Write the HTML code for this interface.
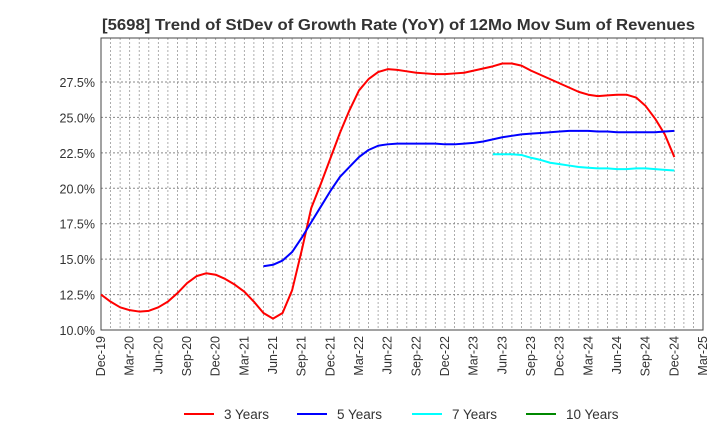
<!DOCTYPE html>
<html><head><meta charset="utf-8"><style>
body{margin:0;background:#fff;font-family:"Liberation Sans",Arial,sans-serif}
svg text{font-family:"Liberation Sans",Arial,sans-serif}
</style></head><body>
<svg id="c" width="720" height="440" xmlns="http://www.w3.org/2000/svg">
<text x="102" y="30" textLength="593" lengthAdjust="spacingAndGlyphs" font-size="16" font-weight="bold" fill="#333">[5698]  Trend of StDev of Growth Rate (YoY) of 12Mo Mov Sum of Revenues</text>
<g id="grid"></g><g id="axes"></g><g id="series"></g><g id="legend"></g>
</svg>
<script>
const xLabels=["Dec-19","Mar-20","Jun-20","Sep-20","Dec-20","Mar-21","Jun-21","Sep-21","Dec-21","Mar-22","Jun-22","Sep-22","Dec-22","Mar-23","Jun-23","Sep-23","Dec-23","Mar-24","Jun-24","Sep-24","Dec-24","Mar-25"];
const yTicks=[10,12.5,15,17.5,20,22.5,25,27.5];
const s3=[12.5,12.0,11.6,11.4,11.3,11.35,11.6,12.0,12.6,13.3,13.8,14.0,13.9,13.6,13.2,12.7,12.0,11.2,10.8,11.2,12.8,15.6,18.6,20.3,22.1,23.9,25.5,26.9,27.7,28.2,28.4,28.35,28.25,28.15,28.1,28.05,28.05,28.1,28.15,28.3,28.45,28.6,28.8,28.8,28.65,28.3,28.0,27.7,27.4,27.1,26.8,26.6,26.5,26.55,26.6,26.6,26.4,25.8,24.9,23.8,22.2];
const s5Start=17;
const s5=[14.5,14.6,14.9,15.5,16.5,17.6,18.7,19.8,20.8,21.5,22.2,22.7,23.0,23.1,23.15,23.15,23.15,23.15,23.15,23.1,23.1,23.15,23.2,23.3,23.45,23.6,23.7,23.8,23.85,23.9,23.95,24.0,24.05,24.05,24.05,24.0,24.0,23.95,23.95,23.95,23.95,23.95,24.0,24.05];
const s7Start=41;
const s7=[22.4,22.4,22.4,22.35,22.15,22.0,21.8,21.7,21.6,21.5,21.45,21.4,21.4,21.35,21.35,21.4,21.4,21.35,21.3,21.25];
const L=101,R=703,T=38,B=330,yMin=10,yMax=30.6,nM=63;
const X=i=>L+(R-L)*i/nM, Y=v=>B-(B-T)*(v-yMin)/(yMax-yMin);
const NS="http://www.w3.org/2000/svg";
function mk(t,a,p){const e=document.createElementNS(NS,t);for(const k in a)e.setAttribute(k,a[k]);p.appendChild(e);return e;}
const g=document.getElementById('grid'),ax=document.getElementById('axes'),se=document.getElementById('series'),lg=document.getElementById('legend');
for(let i=1;i<nM;i++){const l=mk('line',{x1:X(i),x2:X(i),y1:T,y2:B,stroke:'#999','stroke-dasharray':'2,2','stroke-width':0.8},g);

}
yTicks.forEach(v=>{if(v>yMin){const l=mk('line',{x1:L,x2:R,y1:Y(v),y2:Y(v),stroke:'#888','stroke-dasharray':'2,2','stroke-width':1},g);

}
const t=mk('text',{x:L-6,y:Y(v)+5,'text-anchor':'end','font-size':12.5,fill:'#333'},ax);t.textContent=v.toFixed(1)+'%';

});
const fr=mk('rect',{x:L,y:T,width:R-L,height:B-T,fill:'none',stroke:'#444','stroke-width':1},ax);


xLabels.forEach((s,i)=>{const x=X(i*3)+4;const t=mk('text',{x:x,y:B+6,'text-anchor':'end','font-size':12.5,fill:'#333',transform:`rotate(-90 ${x} ${B+6})`},ax);t.textContent=s;

});
function line(arr,start,col,name){const p=mk('polyline',{points:arr.map((v,i)=>X(start+i)+','+Y(v)).join(' '),fill:'none',stroke:col,'stroke-width':2,'stroke-linejoin':'round'},se);

}
line(s3,0,'#f00','series-3-years');
line(s5,s5Start,'#00f','series-5-years');
line(s7,s7Start,'#0ff','series-7-years');
[['3 Years','#f00',184],['5 Years','#00f',297],['7 Years','#0ff',412],['10 Years','#080',526]].forEach(([n,c,x])=>{
const gg=mk('g',{},lg);


mk('line',{x1:x,x2:x+30,y1:414,y2:414,stroke:c,'stroke-width':2},gg);
const t=mk('text',{x:x+40,y:419,'font-size':13.5,fill:'#333'},gg);t.textContent=n;});
</script>
</body></html>
